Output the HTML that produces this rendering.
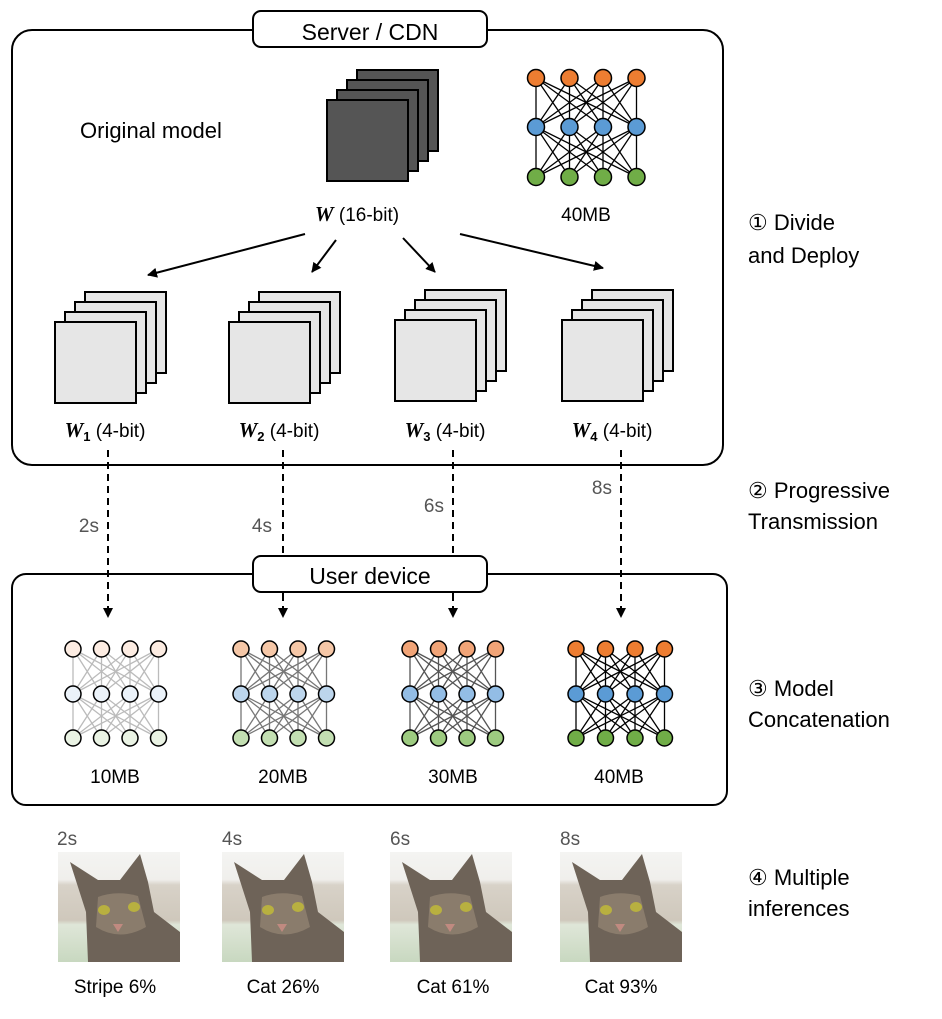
<!DOCTYPE html>
<html><head><meta charset="utf-8"><style>
body{margin:0;background:#fff;}
svg{display:block;font-family:"Liberation Sans",sans-serif;}
</style></head><body>
<svg id="s" width="942" height="1019" viewBox="0 0 942 1019" xmlns="http://www.w3.org/2000/svg">
<defs>
<marker id="ah" markerWidth="10" markerHeight="10" refX="9" refY="5" orient="auto" markerUnits="userSpaceOnUse"><path d="M0,0 L10,5 L0,10 z" fill="#000"/></marker>
<linearGradient id="bg" x1="0" y1="0" x2="0" y2="1"><stop offset="0" stop-color="#f4f4f2"/><stop offset="0.25" stop-color="#f0efec"/><stop offset="0.3" stop-color="#d8d2c8"/><stop offset="0.62" stop-color="#cfc8bc"/><stop offset="0.66" stop-color="#dfe6d8"/><stop offset="1" stop-color="#c8d8c0"/></linearGradient>
</defs>
<!-- Server box -->
<rect x="12" y="30" width="711" height="435" rx="20" fill="none" stroke="#000" stroke-width="2"/>
<rect x="253" y="11" width="234" height="36" rx="8" fill="#fff" stroke="#000" stroke-width="2"/>
<text x="370" y="40" font-size="23" text-anchor="middle">Server / CDN</text>
<text x="80" y="138" font-size="22">Original model</text>
<g id="dark"></g>
<text x="357" y="221" font-size="19" text-anchor="middle"><tspan font-family="Liberation Serif" font-weight="bold" font-style="italic" font-size="21">W</tspan> (16-bit)</text>
<text x="586" y="221" font-size="19" text-anchor="middle">40MB</text>
<line x1="305" y1="234" x2="148" y2="275" stroke="#000" stroke-width="2" marker-end="url(#ah)"/>
<line x1="336" y1="240" x2="312" y2="272" stroke="#000" stroke-width="2" marker-end="url(#ah)"/>
<line x1="403" y1="238" x2="435" y2="272" stroke="#000" stroke-width="2" marker-end="url(#ah)"/>
<line x1="460" y1="234" x2="603" y2="268" stroke="#000" stroke-width="2" marker-end="url(#ah)"/>
<g id="light"></g>
<g font-size="19" text-anchor="middle">
<text x="105" y="437"><tspan font-family="Liberation Serif" font-weight="bold" font-style="italic" font-size="21">W</tspan><tspan font-size="13" dy="4" font-weight="bold">1</tspan><tspan dy="-4"> (4-bit)</tspan></text>
<text x="279" y="437"><tspan font-family="Liberation Serif" font-weight="bold" font-style="italic" font-size="21">W</tspan><tspan font-size="13" dy="4" font-weight="bold">2</tspan><tspan dy="-4"> (4-bit)</tspan></text>
<text x="445" y="437"><tspan font-family="Liberation Serif" font-weight="bold" font-style="italic" font-size="21">W</tspan><tspan font-size="13" dy="4" font-weight="bold">3</tspan><tspan dy="-4"> (4-bit)</tspan></text>
<text x="612" y="437"><tspan font-family="Liberation Serif" font-weight="bold" font-style="italic" font-size="21">W</tspan><tspan font-size="13" dy="4" font-weight="bold">4</tspan><tspan dy="-4"> (4-bit)</tspan></text>
</g>
<!-- dashed -->
<g stroke="#000" stroke-width="2" stroke-dasharray="7,5" marker-end="url(#ah)">
<line x1="108" y1="450" x2="108" y2="617"/>
<line x1="283" y1="450" x2="283" y2="617"/>
<line x1="453" y1="450" x2="453" y2="617"/>
<line x1="621" y1="450" x2="621" y2="617"/>
</g>
<g font-size="19" fill="#555" text-anchor="end">
<text x="99" y="532">2s</text><text x="272" y="532">4s</text><text x="444" y="512">6s</text><text x="612" y="494">8s</text>
</g>
<!-- user box -->
<rect x="12" y="574" width="715" height="231" rx="14" fill="none" stroke="#000" stroke-width="2"/>
<rect x="253" y="556" width="234" height="36" rx="8" fill="#fff" stroke="#000" stroke-width="2"/>
<rect x="270" y="570" width="200" height="8" fill="#fff"/>
<g stroke="#000" stroke-width="2" stroke-dasharray="7,5"><line x1="283" y1="592" x2="283" y2="600"/><line x1="453" y1="592" x2="453" y2="600"/></g>
<text x="370" y="584" font-size="23" text-anchor="middle">User device</text>
<g id="nets"></g>
<g font-size="19" text-anchor="middle">
<text x="115" y="783">10MB</text><text x="283" y="783">20MB</text><text x="453" y="783">30MB</text><text x="619" y="783">40MB</text>
</g>
<!-- right labels -->
<g font-size="22">
<text x="748" y="230">① Divide</text><text x="748" y="263">and Deploy</text>
<text x="748" y="498">② Progressive</text><text x="748" y="529">Transmission</text>
<text x="748" y="696">③ Model</text><text x="748" y="727">Concatenation</text>
<text x="748" y="885">④ Multiple</text><text x="748" y="916">inferences</text>
</g>
<g id="cats"></g>
<g font-size="19" fill="#555">
<text x="57" y="845">2s</text><text x="222" y="845">4s</text><text x="390" y="845">6s</text><text x="560" y="845">8s</text>
</g>
<g font-size="19" text-anchor="middle">
<text x="115" y="993">Stripe 6%</text><text x="283" y="993">Cat 26%</text><text x="453" y="993">Cat 61%</text><text x="621" y="993">Cat 93%</text>
</g>
</svg>
<script>
var NS="http://www.w3.org/2000/svg";
function el(p,t,a){var e=document.createElementNS(NS,t);for(var k in a)e.setAttribute(k,a[k]);p.appendChild(e);return e;}
function stack(g,x,y,fill){for(var i=3;i>=0;i--)el(g,"rect",{x:x+i*10,y:y-i*10,width:81,height:81,fill:fill,stroke:"#000","stroke-width":2});}
stack(document.getElementById("dark"),327,100,"#555");
var L=document.getElementById("light");
stack(L,55,322,"#e6e6e6");stack(L,229,322,"#e6e6e6");stack(L,395,320,"#e6e6e6");stack(L,562,320,"#e6e6e6");
function net(g,x0,dx,ys,cols,lc,r){
 for(var l=0;l<2;l++)for(var i=0;i<4;i++)for(var j=0;j<4;j++)el(g,"line",{x1:x0+i*dx,y1:ys[l],x2:x0+j*dx,y2:ys[l+1],stroke:lc,"stroke-width":1.3});
 for(var l=0;l<3;l++)for(var i=0;i<4;i++)el(g,"circle",{cx:x0+i*dx,cy:ys[l],r:r,fill:cols[l],stroke:"#000","stroke-width":1.5});
}
var s=document.getElementById("s");
net(s.insertBefore(document.createElementNS(NS,"g"),document.getElementById("nets")),536,33.5,[78,127,177],["#ed7d31","#5b9bd5","#70ad47"],"#000",8.5);
var N=document.getElementById("nets");
var ys=[649,694,738];
net(N,73,28.5,ys,["#fcece2","#ebf2f9","#eaf3e4"],"#bbb",8);
net(N,241,28.5,ys,["#f5c7a7","#bcd5ec","#c3dfb2"],"#777",8);
net(N,410,28.5,ys,["#f1a477","#93bde5","#9dcb80"],"#555",8);
net(N,576,29.5,ys,["#ed7d31","#5b9bd5","#70ad47"],"#000",8);
var C=document.getElementById("cats");
[58,222,390,560].forEach(function(x){
 var g=el(C,"g",{transform:"translate("+x+",852)"});
 el(g,"rect",{x:0,y:0,width:122,height:110,fill:"url(#bg)"});
 el(g,"path",{d:"M30,110 L28,60 L12,10 L40,28 L62,28 L82,2 L90,30 L96,60 L122,80 L122,110 Z",fill:"#6e6358"});
 el(g,"path",{d:"M40,45 Q58,38 80,44 L88,75 Q62,90 38,75 Z",fill:"#8a7c6c"});
 el(g,"ellipse",{cx:46,cy:58,rx:6,ry:5,fill:"#b8b040"});
 el(g,"ellipse",{cx:76,cy:55,rx:6,ry:5,fill:"#b8b040"});
 el(g,"path",{d:"M55,72 L65,72 L60,80 Z",fill:"#c08a80"});
});
</script>
</body></html>
